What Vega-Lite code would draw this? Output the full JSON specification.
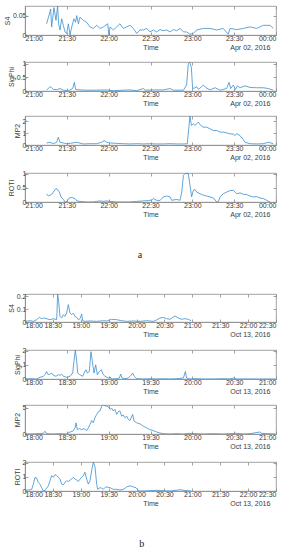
{
"$schema":"https://vega.github.io/schema/vega-lite/v6.json",
"padding":{"left":2,"top":5,"right":0,"bottom":0},
"spacing":30,
"config":{
 "view":{"stroke":"#8c8c8c","strokeWidth":0.8},
 "axis":{"labelFont":"Liberation Sans","labelFontSize":7,"labelColor":"#3a3a3a","titleFont":"Liberation Sans","titleFontSize":7,"titleFontWeight":"normal","titleColor":"#3a3a3a","domainColor":"#8c8c8c","domainWidth":0.8,"tickColor":"#8c8c8c","tickWidth":0.8,"tickSize":-3,"labelPadding":2,"titlePadding":2,"grid":false},
 "axisY":{"format":"~g"},
 "line":{"color":"#3a8fd0","strokeWidth":0.8},
 "concat":{"spacing":7}
},
"datasets":{
 "a1":[{"m":15.5,"v":0.029},{"m":18.4,"v":0.067},{"m":19.1,"v":0.021},{"m":20.8,"v":0.071},{"m":22.2,"v":0.038},{"m":23.4,"v":0.075},{"m":24.1,"v":0.029},{"m":25.1,"v":0.013},{"m":26.3,"v":0.042},{"m":27.5,"v":0.025},{"m":28.7,"v":0.008},{"m":29.9,"v":0.004},{"m":31.1,"v":0.029},{"m":32.3,"v":0},{"m":33.5,"v":0.021},{"m":35.1,"v":0.042},{"m":36.3,"v":0.033},{"m":37.1,"v":0.05},{"m":38.3,"v":0.029},{"m":39.4,"v":0.046},{"m":41.8,"v":0.038},{"m":44.2,"v":0.033},{"m":46.6,"v":0.021},{"m":49,"v":0.017},{"m":51.4,"v":0.025},{"m":53.8,"v":0.017},{"m":56.2,"v":0.021},{"m":59.3,"v":0.029},{"m":60.2,"v":0},{"m":61,"v":0.021},{"m":63.4,"v":0.013},{"m":65.7,"v":0.021},{"m":68.1,"v":0.029},{"m":70.5,"v":0.017},{"m":72.9,"v":0.021},{"m":75.3,"v":0.025},{"m":77.7,"v":0.017},{"m":80.1,"v":0.004},{"m":82.5,"v":0.013},{"m":84.9,"v":0.013},{"m":87.3,"v":0.017},{"m":89.6,"v":0.008},{"m":92,"v":0.013},{"m":94.4,"v":0.008},{"m":96.8,"v":0.014},{"m":99.2,"v":0.011},{"m":101.6,"v":0.013},{"m":104,"v":0.008},{"m":106.4,"v":0.014},{"m":108.8,"v":0.011},{"m":111.2,"v":0.017},{"m":113.6,"v":0.008},{"m":115.9,"v":0.008},{"m":118.3,"v":0.002},{"m":120.7,"v":0.004},{"m":123.1,"v":0.013},{"m":127.9,"v":0.017},{"m":132.7,"v":0.017},{"m":137.5,"v":0.013},{"m":142.2,"v":0.017},{"m":145.8,"v":0.002},{"m":147,"v":0.017},{"m":151.8,"v":0.014},{"m":156.6,"v":0.017},{"m":161.4,"v":0.021},{"m":166.1,"v":0.017},{"m":168.5,"v":0.021},{"m":170.9,"v":0.025},{"m":175.7,"v":0.025},{"m":178.1,"v":0.017}],
 "a2":[{"m":15.5,"v":0.03},{"m":17.9,"v":0.16},{"m":19.1,"v":0.12},{"m":20.3,"v":0.06},{"m":22.7,"v":0.05},{"m":25.1,"v":0.09},{"m":27.5,"v":0.03},{"m":31.1,"v":0.01},{"m":34.2,"v":0.09},{"m":35.4,"v":0.32},{"m":36.3,"v":0.06},{"m":39.4,"v":0.04},{"m":44.2,"v":0.03},{"m":51.4,"v":0.03},{"m":58.6,"v":0.04},{"m":63.4,"v":0.01},{"m":70.5,"v":0.03},{"m":75.3,"v":0.04},{"m":80.1,"v":0.01},{"m":84.9,"v":0.09},{"m":86.1,"v":0.03},{"m":92,"v":0.04},{"m":99.2,"v":0.04},{"m":104,"v":0.09},{"m":106.4,"v":0.03},{"m":113.6,"v":0.03},{"m":115.9,"v":0.22},{"m":117.1,"v":1.0},{"m":118.1,"v":1.07},{"m":119.3,"v":0.87},{"m":120.2,"v":0.09},{"m":121.9,"v":0.12},{"m":123.1,"v":0.16},{"m":124.3,"v":0.06},{"m":126.7,"v":0.16},{"m":127.9,"v":0.22},{"m":129.8,"v":0.12},{"m":132.7,"v":0.04},{"m":136.3,"v":0.12},{"m":139.9,"v":0.03},{"m":144.6,"v":0.09},{"m":146.3,"v":0.32},{"m":147.5,"v":0.09},{"m":149.4,"v":0.22},{"m":150.9,"v":0.06},{"m":152.3,"v":0.19},{"m":154.2,"v":0.12},{"m":157.8,"v":0.19},{"m":161.4,"v":0.13},{"m":166.1,"v":0.12},{"m":170.9,"v":0.12},{"m":174.5,"v":0.09},{"m":178.1,"v":0.03}],
 "a3":[{"m":15.5,"v":0.17},{"m":17.9,"v":0.23},{"m":20.3,"v":0.11},{"m":22.7,"v":0.23},{"m":23.9,"v":0.66},{"m":25.1,"v":0.23},{"m":27.5,"v":0.17},{"m":29.9,"v":0.11},{"m":32.3,"v":0.14},{"m":37.1,"v":0.23},{"m":41.8,"v":0.09},{"m":46.6,"v":0.11},{"m":51.4,"v":0.11},{"m":55,"v":0.23},{"m":56.7,"v":0.37},{"m":58.6,"v":0.23},{"m":61,"v":0.17},{"m":65.7,"v":0.14},{"m":70.5,"v":0.11},{"m":75.3,"v":0.09},{"m":80.1,"v":0.11},{"m":84.9,"v":0.09},{"m":89.6,"v":0.11},{"m":94.4,"v":0.09},{"m":99.2,"v":0.09},{"m":104,"v":0.11},{"m":108.8,"v":0.09},{"m":113.6,"v":0.09},{"m":116.4,"v":0.11},{"m":117.4,"v":1.37},{"m":118.3,"v":2.46},{"m":119.3,"v":1.66},{"m":120.7,"v":1.8},{"m":121.9,"v":1.66},{"m":124.3,"v":1.94},{"m":126,"v":1.66},{"m":127.9,"v":1.51},{"m":130.3,"v":1.51},{"m":132.7,"v":1.37},{"m":135.1,"v":1.23},{"m":137.5,"v":1.23},{"m":139.9,"v":1.09},{"m":142.2,"v":1.09},{"m":144.6,"v":1.03},{"m":147,"v":0.94},{"m":149.4,"v":0.94},{"m":150.6,"v":0.8},{"m":151.8,"v":0.97},{"m":154.2,"v":0.8},{"m":156.6,"v":0.46},{"m":157.8,"v":0.23},{"m":161.4,"v":0.11},{"m":166.1,"v":0.09},{"m":170.9,"v":0.11},{"m":174.5,"v":0.23},{"m":175.7,"v":0.2},{"m":178.1,"v":0.09}],
 "a4":[{"m":15.5,"v":0.29},{"m":16.7,"v":0.21},{"m":17.9,"v":0.24},{"m":19.1,"v":0.26},{"m":20.3,"v":0.35},{"m":22.2,"v":0.47},{"m":23.4,"v":0.44},{"m":24.6,"v":0.35},{"m":25.8,"v":0.18},{"m":27.5,"v":0.09},{"m":28.7,"v":0},{"m":29.9,"v":0.02},{"m":31.8,"v":0.14},{"m":33.5,"v":0.16},{"m":35.9,"v":0.12},{"m":37.1,"v":0.04},{"m":39.4,"v":0.02},{"m":44.2,"v":0},{"m":49,"v":0},{"m":51.4,"v":0.02},{"m":53.8,"v":0.04},{"m":56.2,"v":0.02},{"m":58.6,"v":0.04},{"m":61,"v":0.02},{"m":65.7,"v":0},{"m":70.5,"v":0},{"m":75.3,"v":0},{"m":80.1,"v":0.02},{"m":84.9,"v":0.04},{"m":88.5,"v":0.05},{"m":90.8,"v":0.07},{"m":92,"v":0.12},{"m":94.4,"v":0.06},{"m":96.8,"v":0.05},{"m":99.2,"v":0.18},{"m":101.6,"v":0.21},{"m":104,"v":0.18},{"m":105.2,"v":0.06},{"m":108.8,"v":0.09},{"m":111.2,"v":0.06},{"m":112.4,"v":0.35},{"m":113.6,"v":0.94},{"m":114.8,"v":1.0},{"m":117.1,"v":1.0},{"m":118.3,"v":0.59},{"m":119.5,"v":0.18},{"m":120.7,"v":0.41},{"m":121.9,"v":0.44},{"m":123.1,"v":0.35},{"m":125.5,"v":0.29},{"m":127.9,"v":0.24},{"m":130.3,"v":0.21},{"m":132.7,"v":0.18},{"m":135.1,"v":0.14},{"m":137.5,"v":0},{"m":138.7,"v":0.02},{"m":139.9,"v":0.18},{"m":142.2,"v":0.29},{"m":144.6,"v":0.35},{"m":147,"v":0.4},{"m":149.4,"v":0.41},{"m":151.8,"v":0.29},{"m":154.2,"v":0.32},{"m":156.6,"v":0.27},{"m":159,"v":0.26},{"m":161.4,"v":0.21},{"m":163.8,"v":0.18},{"m":166.1,"v":0.19},{"m":168.5,"v":0.14},{"m":170.9,"v":0.12},{"m":173.3,"v":0.06},{"m":175.7,"v":0}],
 "b1":[{"m":0,"v":0.005},{"m":5.4,"v":0.01},{"m":9,"v":0.005},{"m":12.5,"v":0.018},{"m":15.4,"v":0.036},{"m":17.9,"v":0.026},{"m":19.7,"v":0.031},{"m":23.3,"v":0.026},{"m":26.9,"v":0.018},{"m":30.5,"v":0.026},{"m":34.1,"v":0.018},{"m":35.1,"v":0.218},{"m":36.2,"v":0.161},{"m":37.6,"v":0.044},{"m":39.4,"v":0.031},{"m":41.2,"v":0.057},{"m":43,"v":0.044},{"m":44.8,"v":0.07},{"m":46.6,"v":0.135},{"m":48.4,"v":0.07},{"m":50.2,"v":0.057},{"m":52,"v":0.07},{"m":53.8,"v":0.044},{"m":55.6,"v":0.036},{"m":57.4,"v":0.018},{"m":59.2,"v":0.026},{"m":61,"v":0.062},{"m":62,"v":0.01},{"m":64.5,"v":0.005},{"m":69.9,"v":0.008},{"m":77.1,"v":0.005},{"m":84.3,"v":0.01},{"m":87.8,"v":0.008},{"m":93.2,"v":0.021},{"m":98.6,"v":0.018},{"m":104,"v":0.01},{"m":109.4,"v":0.005},{"m":116.5,"v":0.008},{"m":123.7,"v":0.005},{"m":130.9,"v":0.01},{"m":138,"v":0.005},{"m":141.6,"v":0.016},{"m":145.2,"v":0.031},{"m":148.8,"v":0.036},{"m":152.4,"v":0.026},{"m":156,"v":0.021},{"m":159.6,"v":0.039},{"m":161.3,"v":0.047},{"m":164.9,"v":0.031},{"m":168.5,"v":0.021},{"m":172.1,"v":0.026},{"m":175.7,"v":0.021},{"m":178.6,"v":0.01}],
 "b2":[{"m":0,"v":0},{"m":3.6,"v":0.02},{"m":8.4,"v":0},{"m":10.8,"v":0.12},{"m":13.1,"v":0.19},{"m":14.3,"v":0.3},{"m":15.5,"v":0.53},{"m":16.7,"v":0.3},{"m":17.9,"v":0.35},{"m":19.1,"v":0.42},{"m":20.3,"v":0.26},{"m":22.2,"v":0.19},{"m":23.9,"v":0.3},{"m":25.1,"v":0.26},{"m":26.3,"v":0.35},{"m":27.5,"v":0.19},{"m":29.9,"v":0.12},{"m":32.3,"v":0.19},{"m":34.2,"v":0.42},{"m":35.1,"v":1.23},{"m":36.1,"v":2.05},{"m":37.1,"v":1.23},{"m":37.8,"v":0.42},{"m":39.4,"v":0.3},{"m":41.4,"v":0.19},{"m":42.3,"v":0.42},{"m":43.7,"v":0.65},{"m":44.7,"v":0.42},{"m":46.1,"v":0.53},{"m":47.3,"v":1.93},{"m":48.3,"v":1.23},{"m":49.5,"v":0.42},{"m":50.7,"v":1.0},{"m":51.9,"v":0.3},{"m":53.3,"v":0.53},{"m":54.7,"v":0.65},{"m":56.2,"v":0.3},{"m":57.4,"v":0.19},{"m":59.8,"v":0.07},{"m":61,"v":0.14},{"m":62.2,"v":0},{"m":65.7,"v":0.02},{"m":67.7,"v":0.07},{"m":68.6,"v":0.35},{"m":69.6,"v":0.07},{"m":71.7,"v":0.02},{"m":74.1,"v":0.07},{"m":76,"v":0.26},{"m":77.2,"v":0.42},{"m":78.4,"v":0.19},{"m":80.1,"v":0.02},{"m":84.9,"v":0},{"m":89.6,"v":0.02},{"m":94.4,"v":0},{"m":99.2,"v":0.02},{"m":104,"v":0},{"m":108.8,"v":0.02},{"m":113.6,"v":0.07},{"m":115,"v":0.53},{"m":115.9,"v":0.07},{"m":118.3,"v":0},{"m":123.1,"v":0.02},{"m":127.9,"v":0},{"m":135.1,"v":0},{"m":142.2,"v":0.02},{"m":147,"v":0},{"m":149.4,"v":0.07},{"m":151.8,"v":0},{"m":161.4,"v":0},{"m":170.9,"v":0},{"m":179.3,"v":0}],
 "b3":[{"m":0,"v":0.06},{"m":3.6,"v":0},{"m":8.4,"v":0.06},{"m":13.1,"v":0.13},{"m":14.3,"v":0.51},{"m":15.5,"v":0.06},{"m":20.3,"v":0},{"m":25.1,"v":0.06},{"m":29.9,"v":0},{"m":32.3,"v":0.38},{"m":34.2,"v":0.51},{"m":35.9,"v":1.15},{"m":36.6,"v":2.12},{"m":37.5,"v":0.83},{"m":39,"v":1.03},{"m":40.6,"v":0.83},{"m":42.3,"v":1.03},{"m":44.2,"v":0.64},{"m":45.4,"v":1.15},{"m":46.6,"v":1.79},{"m":47.8,"v":2.56},{"m":49,"v":2.12},{"m":50.2,"v":3.08},{"m":51.4,"v":3.72},{"m":52.6,"v":4.23},{"m":53.8,"v":4.36},{"m":55,"v":5.32},{"m":56.2,"v":5.51},{"m":58.1,"v":5.32},{"m":59.8,"v":5.13},{"m":61,"v":4.68},{"m":62.2,"v":4.87},{"m":63.4,"v":4.36},{"m":64.5,"v":4.68},{"m":65.7,"v":3.72},{"m":66.9,"v":4.23},{"m":68.1,"v":4.36},{"m":69.3,"v":3.4},{"m":70.5,"v":3.59},{"m":71.7,"v":3.08},{"m":72.9,"v":3.4},{"m":74.1,"v":2.76},{"m":75.3,"v":2.56},{"m":77.2,"v":3.72},{"m":78.2,"v":2.44},{"m":80.1,"v":2.12},{"m":82.5,"v":1.92},{"m":84.9,"v":1.47},{"m":87.3,"v":1.15},{"m":89.6,"v":0.83},{"m":92,"v":0.64},{"m":94.4,"v":0.38},{"m":96.8,"v":0.19},{"m":99.2,"v":0.06},{"m":104,"v":0},{"m":108.8,"v":0.06},{"m":113.6,"v":0},{"m":118.3,"v":0.13},{"m":123.1,"v":0.06},{"m":127.9,"v":0},{"m":135.1,"v":0.06},{"m":142.2,"v":0},{"m":147,"v":0.06},{"m":151.8,"v":0.13},{"m":156.6,"v":0},{"m":161.4,"v":0.06},{"m":168.5,"v":0.38},{"m":169.7,"v":0.13},{"m":173.3,"v":0.06},{"m":179.3,"v":0}],
 "b4":[{"m":0,"v":0.05},{"m":3.6,"v":0.07},{"m":7.2,"v":0.12},{"m":9,"v":0.49},{"m":10.8,"v":0.98},{"m":12.5,"v":0.93},{"m":14.3,"v":0.61},{"m":16.1,"v":0.49},{"m":17.9,"v":0.24},{"m":19.7,"v":0},{"m":21.5,"v":0.05},{"m":23.3,"v":0.2},{"m":25.1,"v":0.37},{"m":26.9,"v":0.73},{"m":28.7,"v":1.1},{"m":30.5,"v":0.98},{"m":32.3,"v":1.17},{"m":34.1,"v":1.1},{"m":35.9,"v":0.98},{"m":37.6,"v":0.85},{"m":39.4,"v":0.49},{"m":41.2,"v":0.44},{"m":43,"v":0.61},{"m":44.8,"v":0.73},{"m":46.6,"v":0.68},{"m":48.4,"v":0.78},{"m":50.2,"v":0.85},{"m":52,"v":0.98},{"m":53.8,"v":0.85},{"m":55.6,"v":0.78},{"m":57.4,"v":0.68},{"m":59.2,"v":0.85},{"m":61,"v":0.98},{"m":62.7,"v":1.1},{"m":64.5,"v":1.34},{"m":66.3,"v":0.85},{"m":68.1,"v":0.49},{"m":69.9,"v":0.73},{"m":71.7,"v":1.46},{"m":73.5,"v":2.07},{"m":75.3,"v":1.71},{"m":77.1,"v":0.49},{"m":78.2,"v":0.12},{"m":80.7,"v":0.24},{"m":82.5,"v":0.2},{"m":84.3,"v":0.12},{"m":86,"v":0.24},{"m":87.8,"v":0.29},{"m":91.4,"v":0.24},{"m":95,"v":0.12},{"m":98.6,"v":0.12},{"m":102.2,"v":0.07},{"m":105.8,"v":0.12},{"m":107.6,"v":0.2},{"m":109.4,"v":0.29},{"m":112.9,"v":0.37},{"m":116.5,"v":0.29},{"m":119.4,"v":0.24},{"m":120.8,"v":0.12},{"m":123,"v":0},{"m":127.3,"v":0},{"m":134.5,"v":0.02},{"m":141.6,"v":0.05},{"m":148.8,"v":0.02},{"m":156,"v":0},{"m":163.1,"v":0.05},{"m":166.7,"v":0.1},{"m":170.3,"v":0.05},{"m":175.7,"v":0.02},{"m":178.6,"v":0}]
},
"vconcat":[
 {"spacing":7,
  "title":{"text":"a","orient":"bottom","anchor":"middle","font":"Liberation Serif","fontSize":10,"fontWeight":"normal","color":"#222","offset":32},
  "vconcat":[
   {"data":{"name":"a1"},"width":251,"height":29,
    "title":{"text":"Apr 02, 2016","orient":"bottom","anchor":"end","offset":-6,"dx":-6,"font":"Liberation Sans","fontSize":7,"fontWeight":"normal","color":"#3a3a3a"},
    "layer":[
     {"mark":{"type":"line","clip":true},"encoding":{
      "x":{"field":"m","type":"quantitative","scale":{"domain":[0,180],"nice":false},"axis":{"values":[0,30,60,90,120,150,180],"labelExpr":"timeFormat(datetime(2016,3,2,21,datum.value),'%H:%M')","title":"Time"}},
      "y":{"field":"v","type":"quantitative","scale":{"domain":[0,0.075],"nice":false},"axis":{"values":[0,0.05],"title":"S4"}}}},
     {"mark":{"type":"line","opacity":0},"encoding":{
      "x":{"field":"m","type":"quantitative","scale":{"domain":[0,180],"nice":false},"axis":{"orient":"top","values":[0,30,60,90,120,150,180],"labels":false,"domain":false,"title":null}},
      "y":{"field":"v","type":"quantitative","scale":{"domain":[0,0.075],"nice":false},"axis":{"orient":"right","values":[0,0.05],"labels":false,"domain":false,"title":null}}}}
    ],
    "resolve":{"axis":{"x":"independent","y":"independent"}}},
   {"data":{"name":"a2"},"width":251,"height":29,
    "title":{"text":"Apr 02, 2016","orient":"bottom","anchor":"end","offset":-6,"dx":-6,"font":"Liberation Sans","fontSize":7,"fontWeight":"normal","color":"#3a3a3a"},
    "layer":[
     {"mark":{"type":"line","clip":true},"encoding":{
      "x":{"field":"m","type":"quantitative","scale":{"domain":[0,180],"nice":false},"axis":{"values":[0,30,60,90,120,150,180],"labelExpr":"timeFormat(datetime(2016,3,2,21,datum.value),'%H:%M')","title":"Time"}},
      "y":{"field":"v","type":"quantitative","scale":{"domain":[0,1.07],"nice":false},"axis":{"values":[0,0.5,1],"title":"SigPhi"}}}},
     {"mark":{"type":"line","opacity":0},"encoding":{
      "x":{"field":"m","type":"quantitative","scale":{"domain":[0,180],"nice":false},"axis":{"orient":"top","values":[0,30,60,90,120,150,180],"labels":false,"domain":false,"title":null}},
      "y":{"field":"v","type":"quantitative","scale":{"domain":[0,1.07],"nice":false},"axis":{"orient":"right","values":[0,0.5,1],"labels":false,"domain":false,"title":null}}}}
    ],
    "resolve":{"axis":{"x":"independent","y":"independent"}}},
   {"data":{"name":"a3"},"width":251,"height":29,
    "title":{"text":"Apr 02, 2016","orient":"bottom","anchor":"end","offset":-6,"dx":-6,"font":"Liberation Sans","fontSize":7,"fontWeight":"normal","color":"#3a3a3a"},
    "layer":[
     {"mark":{"type":"line","clip":true},"encoding":{
      "x":{"field":"m","type":"quantitative","scale":{"domain":[0,180],"nice":false},"axis":{"values":[0,30,60,90,120,150,180],"labelExpr":"timeFormat(datetime(2016,3,2,21,datum.value),'%H:%M')","title":"Time"}},
      "y":{"field":"v","type":"quantitative","scale":{"domain":[0,2.46],"nice":false},"axis":{"values":[0,1,2],"title":"MP2"}}}},
     {"mark":{"type":"line","opacity":0},"encoding":{
      "x":{"field":"m","type":"quantitative","scale":{"domain":[0,180],"nice":false},"axis":{"orient":"top","values":[0,30,60,90,120,150,180],"labels":false,"domain":false,"title":null}},
      "y":{"field":"v","type":"quantitative","scale":{"domain":[0,2.46],"nice":false},"axis":{"orient":"right","values":[0,1,2],"labels":false,"domain":false,"title":null}}}}
    ],
    "resolve":{"axis":{"x":"independent","y":"independent"}}},
   {"data":{"name":"a4"},"width":251,"height":29,
    "title":{"text":"Apr 02, 2016","orient":"bottom","anchor":"end","offset":-6,"dx":-6,"font":"Liberation Sans","fontSize":7,"fontWeight":"normal","color":"#3a3a3a"},
    "layer":[
     {"mark":{"type":"line","clip":true},"encoding":{
      "x":{"field":"m","type":"quantitative","scale":{"domain":[0,180],"nice":false},"axis":{"values":[0,30,60,90,120,150,180],"labelExpr":"timeFormat(datetime(2016,3,2,21,datum.value),'%H:%M')","title":"Time"}},
      "y":{"field":"v","type":"quantitative","scale":{"domain":[0,1.02],"nice":false},"axis":{"values":[0,0.5,1],"title":"ROTI"}}}},
     {"mark":{"type":"line","opacity":0},"encoding":{
      "x":{"field":"m","type":"quantitative","scale":{"domain":[0,180],"nice":false},"axis":{"orient":"top","values":[0,30,60,90,120,150,180],"labels":false,"domain":false,"title":null}},
      "y":{"field":"v","type":"quantitative","scale":{"domain":[0,1.02],"nice":false},"axis":{"orient":"right","values":[0,0.5,1],"labels":false,"domain":false,"title":null}}}}
    ],
    "resolve":{"axis":{"x":"independent","y":"independent"}}}
  ]},
 {"spacing":7,
  "title":{"text":"b","orient":"bottom","anchor":"middle","font":"Liberation Serif","fontSize":10,"fontWeight":"normal","color":"#222","offset":32},
  "vconcat":[
   {"data":{"name":"b1"},"width":251,"height":28,
    "title":{"text":"Oct 13, 2016","orient":"bottom","anchor":"end","offset":-6,"dx":-6,"font":"Liberation Sans","fontSize":7,"fontWeight":"normal","color":"#3a3a3a"},
    "layer":[
     {"mark":{"type":"line","clip":true},"encoding":{
      "x":{"field":"m","type":"quantitative","scale":{"domain":[0,270],"nice":false},"axis":{"values":[0,30,60,90,120,150,180,210,240,270],"labelExpr":"timeFormat(datetime(2016,9,13,18,datum.value),'%H:%M')","title":"Time"}},
      "y":{"field":"v","type":"quantitative","scale":{"domain":[0,0.218],"nice":false},"axis":{"values":[0,0.1,0.2],"title":"S4"}}}},
     {"mark":{"type":"line","opacity":0},"encoding":{
      "x":{"field":"m","type":"quantitative","scale":{"domain":[0,270],"nice":false},"axis":{"orient":"top","values":[0,30,60,90,120,150,180,210,240,270],"labels":false,"domain":false,"title":null}},
      "y":{"field":"v","type":"quantitative","scale":{"domain":[0,0.218],"nice":false},"axis":{"orient":"right","values":[0,0.1,0.2],"labels":false,"domain":false,"title":null}}}}
    ],
    "resolve":{"axis":{"x":"independent","y":"independent"}}},
   {"data":{"name":"b2"},"width":251,"height":29,
    "title":{"text":"Oct 13, 2016","orient":"bottom","anchor":"end","offset":-6,"dx":-6,"font":"Liberation Sans","fontSize":7,"fontWeight":"normal","color":"#3a3a3a"},
    "layer":[
     {"mark":{"type":"line","clip":true},"encoding":{
      "x":{"field":"m","type":"quantitative","scale":{"domain":[0,180],"nice":false},"axis":{"values":[0,30,60,90,120,150,180],"labelExpr":"timeFormat(datetime(2016,9,13,18,datum.value),'%H:%M')","title":"Time"}},
      "y":{"field":"v","type":"quantitative","scale":{"domain":[0,2.05],"nice":false},"axis":{"values":[0,1,2],"title":"SigPhi"}}}},
     {"mark":{"type":"line","opacity":0},"encoding":{
      "x":{"field":"m","type":"quantitative","scale":{"domain":[0,180],"nice":false},"axis":{"orient":"top","values":[0,30,60,90,120,150,180],"labels":false,"domain":false,"title":null}},
      "y":{"field":"v","type":"quantitative","scale":{"domain":[0,2.05],"nice":false},"axis":{"orient":"right","values":[0,1,2],"labels":false,"domain":false,"title":null}}}}
    ],
    "resolve":{"axis":{"x":"independent","y":"independent"}}},
   {"data":{"name":"b3"},"width":251,"height":29,
    "title":{"text":"Oct 13, 2016","orient":"bottom","anchor":"end","offset":-6,"dx":-6,"font":"Liberation Sans","fontSize":7,"fontWeight":"normal","color":"#3a3a3a"},
    "layer":[
     {"mark":{"type":"line","clip":true},"encoding":{
      "x":{"field":"m","type":"quantitative","scale":{"domain":[0,180],"nice":false},"axis":{"values":[0,30,60,90,120,150,180],"labelExpr":"timeFormat(datetime(2016,9,13,18,datum.value),'%H:%M')","title":"Time"}},
      "y":{"field":"v","type":"quantitative","scale":{"domain":[0,5.5],"nice":false},"axis":{"values":[0,5],"title":"MP2"}}}},
     {"mark":{"type":"line","opacity":0},"encoding":{
      "x":{"field":"m","type":"quantitative","scale":{"domain":[0,180],"nice":false},"axis":{"orient":"top","values":[0,30,60,90,120,150,180],"labels":false,"domain":false,"title":null}},
      "y":{"field":"v","type":"quantitative","scale":{"domain":[0,5.5],"nice":false},"axis":{"orient":"right","values":[0,5],"labels":false,"domain":false,"title":null}}}}
    ],
    "resolve":{"axis":{"x":"independent","y":"independent"}}},
   {"data":{"name":"b4"},"width":251,"height":29,
    "title":{"text":"Oct 13, 2016","orient":"bottom","anchor":"end","offset":-6,"dx":-6,"font":"Liberation Sans","fontSize":7,"fontWeight":"normal","color":"#3a3a3a"},
    "layer":[
     {"mark":{"type":"line","clip":true},"encoding":{
      "x":{"field":"m","type":"quantitative","scale":{"domain":[0,270],"nice":false},"axis":{"values":[0,30,60,90,120,150,180,210,240,270],"labelExpr":"timeFormat(datetime(2016,9,13,18,datum.value),'%H:%M')","title":"Time"}},
      "y":{"field":"v","type":"quantitative","scale":{"domain":[0,2.07],"nice":false},"axis":{"values":[0,1,2],"title":"ROTI"}}}},
     {"mark":{"type":"line","opacity":0},"encoding":{
      "x":{"field":"m","type":"quantitative","scale":{"domain":[0,270],"nice":false},"axis":{"orient":"top","values":[0,30,60,90,120,150,180,210,240,270],"labels":false,"domain":false,"title":null}},
      "y":{"field":"v","type":"quantitative","scale":{"domain":[0,2.07],"nice":false},"axis":{"orient":"right","values":[0,1,2],"labels":false,"domain":false,"title":null}}}}
    ],
    "resolve":{"axis":{"x":"independent","y":"independent"}}}
  ]}
]
}
